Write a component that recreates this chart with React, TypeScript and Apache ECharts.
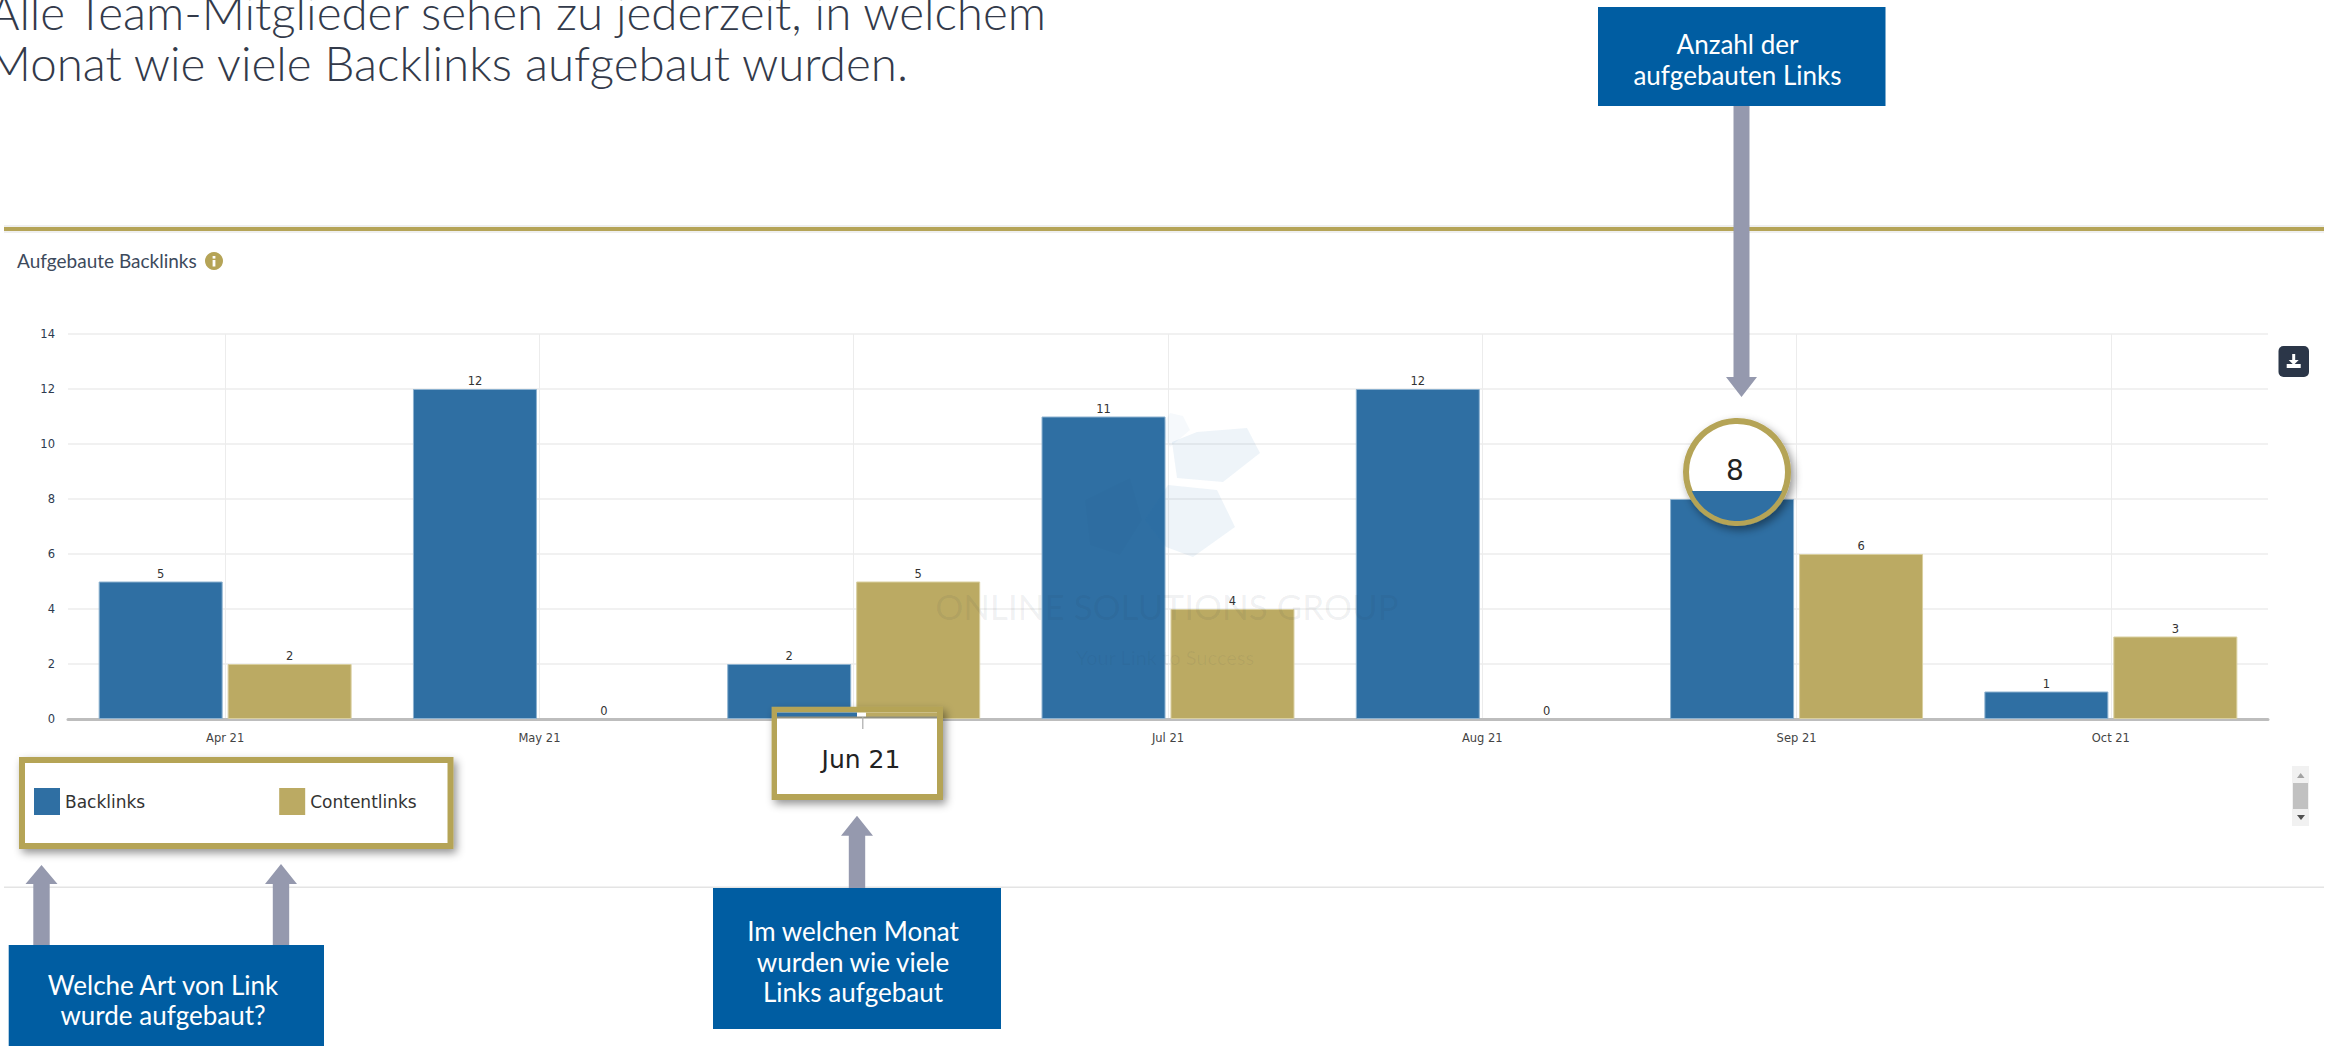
import React, { useEffect, useRef } from "react";
import * as echarts from "echarts";

const months = ["Apr 21", "May 21", "Jun 21", "Jul 21", "Aug 21", "Sep 21", "Oct 21"];
const backlinks = [5, 12, 2, 11, 12, 8, 1];
const contentlinks = [2, 0, 5, 4, 0, 6, 3];
const seriesNames = ["Backlinks", "Contentlinks"];
const introLines = ["Alle Team-Mitglieder sehen zu jederzeit, in welchem", "Monat wie viele Backlinks aufgebaut wurden."];
const chartTitle = "Aufgebaute Backlinks";
const calloutMonth = "Jun 21";
const calloutSeptemberIndex = 5;
const noteTypes = ["Welche Art von Link", "wurde aufgebaut?"];
const noteMonth = ["Im welchen Monat", "wurden wie viele", "Links aufgebaut"];
const noteCount = ["Anzahl der", "aufgebauten Links"];
const watermark = ["ONLINE SOLUTIONS GROUP", "Your Link to Success"];

const BLUE = "#2f6fa3";
const GOLD = "#bbaa63";
const FRAME = "#b5a457";
const NOTE = "#005da2";
const ARROW = "#9599ae";
const UI = "Lato, 'Noto Sans', sans-serif";
const CHART = "'DejaVu Sans', sans-serif";
const SHADOW = { shadowBlur: 9, shadowOffsetX: 3, shadowOffsetY: 4, shadowColor: "rgba(0,0,0,0.42)" };

const rect = (x: number, y: number, w: number, h: number, fill: string, z: number, extra: any = {}, r = 0) => ({
  type: "rect", z, silent: true, shape: { x, y, width: w, height: h, r }, style: { fill, ...extra },
});
const label = (x: number, y: number, text: string, font: string, fill: string, z: number, align = "center") => ({
  type: "text", z, silent: true, x, y,
  style: { text, font, fill, align, verticalAlign: "middle", textAlign: align, textVerticalAlign: "middle" },
});
const poly = (points: number[][], fill: string, z: number, extra: any = {}) => ({
  type: "polygon", z, silent: true, shape: { points }, style: { fill, ...extra },
});
const arrowUp = (cx: number, tip: number, base: number, end: number, shaft: number, head: number, z = 12) =>
  poly([[cx, tip], [cx + head, base], [cx + shaft, base], [cx + shaft, end], [cx - shaft, end], [cx - shaft, base], [cx - head, base]], ARROW, z);
const arrowDown = (cx: number, start: number, base: number, tip: number, shaft: number, head: number, z = 12) =>
  poly([[cx - shaft, start], [cx + shaft, start], [cx + shaft, base], [cx + head, base], [cx, tip], [cx - head, base], [cx - shaft, base]], ARROW, z);

function circleSegment(cx: number, cy: number, r: number, chordY: number) {
  const pts: number[][] = [];
  const a0 = Math.asin((chordY - cy) / r);
  const steps = 48;
  for (let i = 0; i <= steps; i++) {
    const a = a0 + ((Math.PI - 2 * a0) * i) / steps;
    pts.push([cx + r * Math.cos(a), cy + r * Math.sin(a)]);
  }
  return pts;
}

function buildGraphics() {
  const g: any[] = [];
  // page furniture
  g.push(rect(4, 225, 2320, 8, "#efefef", 0));
  g.push(rect(4, 227, 2320, 4, FRAME, 1));
  g.push(rect(4, 886.5, 2320, 1.5, "#e4e4e4", 0));
  g.push(label(1046, 11, introLines[0], `300 47.5px ${UI}`, "#333a4a", 1, "right"));
  g.push(label(908, 62, introLines[1], `300 47.5px ${UI}`, "#333a4a", 1, "right"));
  g.push(label(17, 260, chartTitle, `400 19px ${UI}`, "#3d4a5c", 1, "left"));
  g.push({ type: "circle", z: 1, silent: true, shape: { cx: 214, cy: 261, r: 9 }, style: { fill: FRAME } });
  g.push(rect(212.6, 256, 2.8, 2.6, "#fff", 2));
  g.push(rect(212.6, 260, 2.8, 6.5, "#fff", 2));

  // watermark above the bars
  const wm = "rgba(30,110,180,0.075)";
  g.push(poly([[1172, 442], [1197, 432], [1247, 428], [1260, 453], [1223, 482], [1177, 478]], wm, 8));
  g.push(poly([[1168, 485], [1217, 490], [1235, 527], [1193, 557], [1166, 547], [1145, 520]], wm, 8));
  g.push(poly([[1170, 413], [1183, 416], [1190, 430], [1170, 447], [1160, 430]], "rgba(30,110,180,0.04)", 8));
  g.push(poly([[1085, 500], [1130, 478], [1142, 520], [1120, 555], [1090, 545]], "rgba(0,0,0,0.012)", 8));
  g.push(label(1167, 606, watermark[0], `400 35px ${UI}`, "rgba(40,50,70,0.075)", 8));
  g.push(label(1165, 657, watermark[1], `400 20px ${UI}`, "rgba(40,50,70,0.06)", 8));

  // download button
  g.push(rect(2278.5, 346, 30.5, 31, "#2b3648", 3, {}, 5));
  g.push(rect(2292.2, 354, 3, 6, "#fff", 4));
  g.push(poly([[2288.7, 360], [2298.7, 360], [2293.7, 365]], "#fff", 4));
  g.push(rect(2286.7, 364, 14, 4, "#fff", 4));

  // scrollbar
  g.push(rect(2292, 766, 17, 60, "#f1f1f1", 3));
  g.push(rect(2293, 783, 15, 26, "#c1c1c1", 4));
  g.push(poly([[2297, 778], [2304.5, 778], [2300.7, 773]], "#a3a3a3", 4));
  g.push(poly([[2297, 815], [2305, 815], [2301, 820]], "#505050", 4));

  // legend frame (the legend component is drawn on top)
  g.push(rect(19, 757, 434.5, 92, FRAME, 10, SHADOW));
  g.push(rect(25, 763, 422.5, 80, "#fff", 11));

  // month callout
  g.push(rect(771.6, 706.7, 171.4, 93.3, FRAME, 10, SHADOW));
  g.push(rect(777, 712.5, 160, 81.5, "#fff", 11));
  g.push(rect(777, 712.5, 80, 4.5, BLUE, 12));
  g.push(rect(866, 712.5, 71, 4.5, GOLD, 12));
  g.push(rect(777, 716.5, 160, 2, "#8f8f80", 12));
  g.push(rect(862.2, 717, 1.2, 12, "#aaa", 12));
  g.push(label(861, 759, calloutMonth, `400 25px ${CHART}`, "#222", 13));

  // value callout
  const c = { cx: 1737, cy: 472, r: 51 };
  g.push({ type: "circle", z: 10, silent: true, shape: c, style: { fill: "#fff", stroke: FRAME, lineWidth: 6, ...SHADOW } });
  g.push(poly(circleSegment(c.cx, c.cy, c.r - 2, 491), BLUE, 11));
  g.push(label(1735, 470, String(backlinks[calloutSeptemberIndex]), `400 28px ${CHART}`, "#222", 13));

  // notes and arrows
  g.push(arrowUp(41.5, 865, 884, 946, 8.2, 16));
  g.push(arrowUp(281, 864, 884, 946, 8.2, 16));
  g.push(arrowUp(857, 815.7, 835.7, 889, 8.2, 16));
  g.push(arrowDown(1741.5, 105, 377, 397, 8, 15.5));
  g.push(rect(8.7, 945, 315.3, 101, NOTE, 13));
  g.push(rect(713, 888, 288, 141, NOTE, 13));
  g.push(rect(1598, 7, 287.5, 99, NOTE, 13));
  noteTypes.forEach((t, i) => g.push(label(163, 985 + i * 30, t, `400 26px ${UI}`, "#fff", 14)));
  noteMonth.forEach((t, i) => g.push(label(853, 931 + i * 30.5, t, `400 26px ${UI}`, "#fff", 14)));
  noteCount.forEach((t, i) => g.push(label(1737.5, 44 + i * 31, t, `400 26px ${UI}`, "#fff", 14)));
  return g;
}

export default function App() {
  const ref = useRef<HTMLDivElement>(null);
  useEffect(() => {
    document.body.style.margin = "0";
    document.body.style.overflow = "hidden";
    const chart = echarts.init(ref.current!, undefined, { renderer: "svg" });
    const barLabel = {
      show: true, position: "top", distance: 2, fontFamily: CHART, fontSize: 11.5, color: "#333",
    };
    chart.setOption({
      animation: false,
      backgroundColor: "#fff",
      grid: { left: 68, right: 67, top: 334, height: 385, containLabel: false },
      legend: {
        left: 34, top: 788, padding: 0, z: 20, icon: "rect", itemWidth: 26, itemHeight: 27, itemGap: 134,
        data: seriesNames, selectedMode: false, itemStyle: { borderWidth: 0 },
        textStyle: { fontFamily: CHART, fontSize: 17, color: "#333" },
      },
      xAxis: {
        type: "category", data: months, boundaryGap: true,
        axisLine: { lineStyle: { color: "#bdbdbd", width: 3 } },
        axisTick: { alignWithLabel: true, length: 6, lineStyle: { color: "#ccc" } },
        axisLabel: {
          margin: 13, fontFamily: CHART, fontSize: 11.5, color: "#444",
          formatter: (v: string) => (v === calloutMonth ? "" : v),
        },
        splitLine: { show: true, alignWithLabel: true, lineStyle: { color: "#ececec", width: 1 } },
      },
      yAxis: {
        type: "value", min: 0, max: 14, interval: 2,
        axisLine: { show: false }, axisTick: { show: false },
        axisLabel: { margin: 13, fontFamily: CHART, fontSize: 11.5, color: "#2e3b50" },
        splitLine: { lineStyle: { color: "#ececec", width: 1.5 } },
      },
      series: [
        {
          name: seriesNames[0], type: "bar", barWidth: 124, barGap: "4%",
          itemStyle: { color: BLUE, borderColor: "#8db2d0", borderWidth: 1 },
          label: barLabel,
          data: backlinks.map((value, i) =>
            i === calloutSeptemberIndex ? { value, label: { show: false } } : value),
        },
        {
          name: seriesNames[1], type: "bar", barWidth: 124,
          itemStyle: { color: GOLD, borderColor: "#d9cf9f", borderWidth: 1 },
          label: barLabel,
          data: contentlinks.map((value) => (value === 0 ? { value, itemStyle: { borderWidth: 0 } } : value)),
        },
      ],
      graphic: { elements: buildGraphics() },
    });
    return () => chart.dispose();
  }, []);
  return <div ref={ref} style={{ width: 2335, height: 1046 }} />;
}
